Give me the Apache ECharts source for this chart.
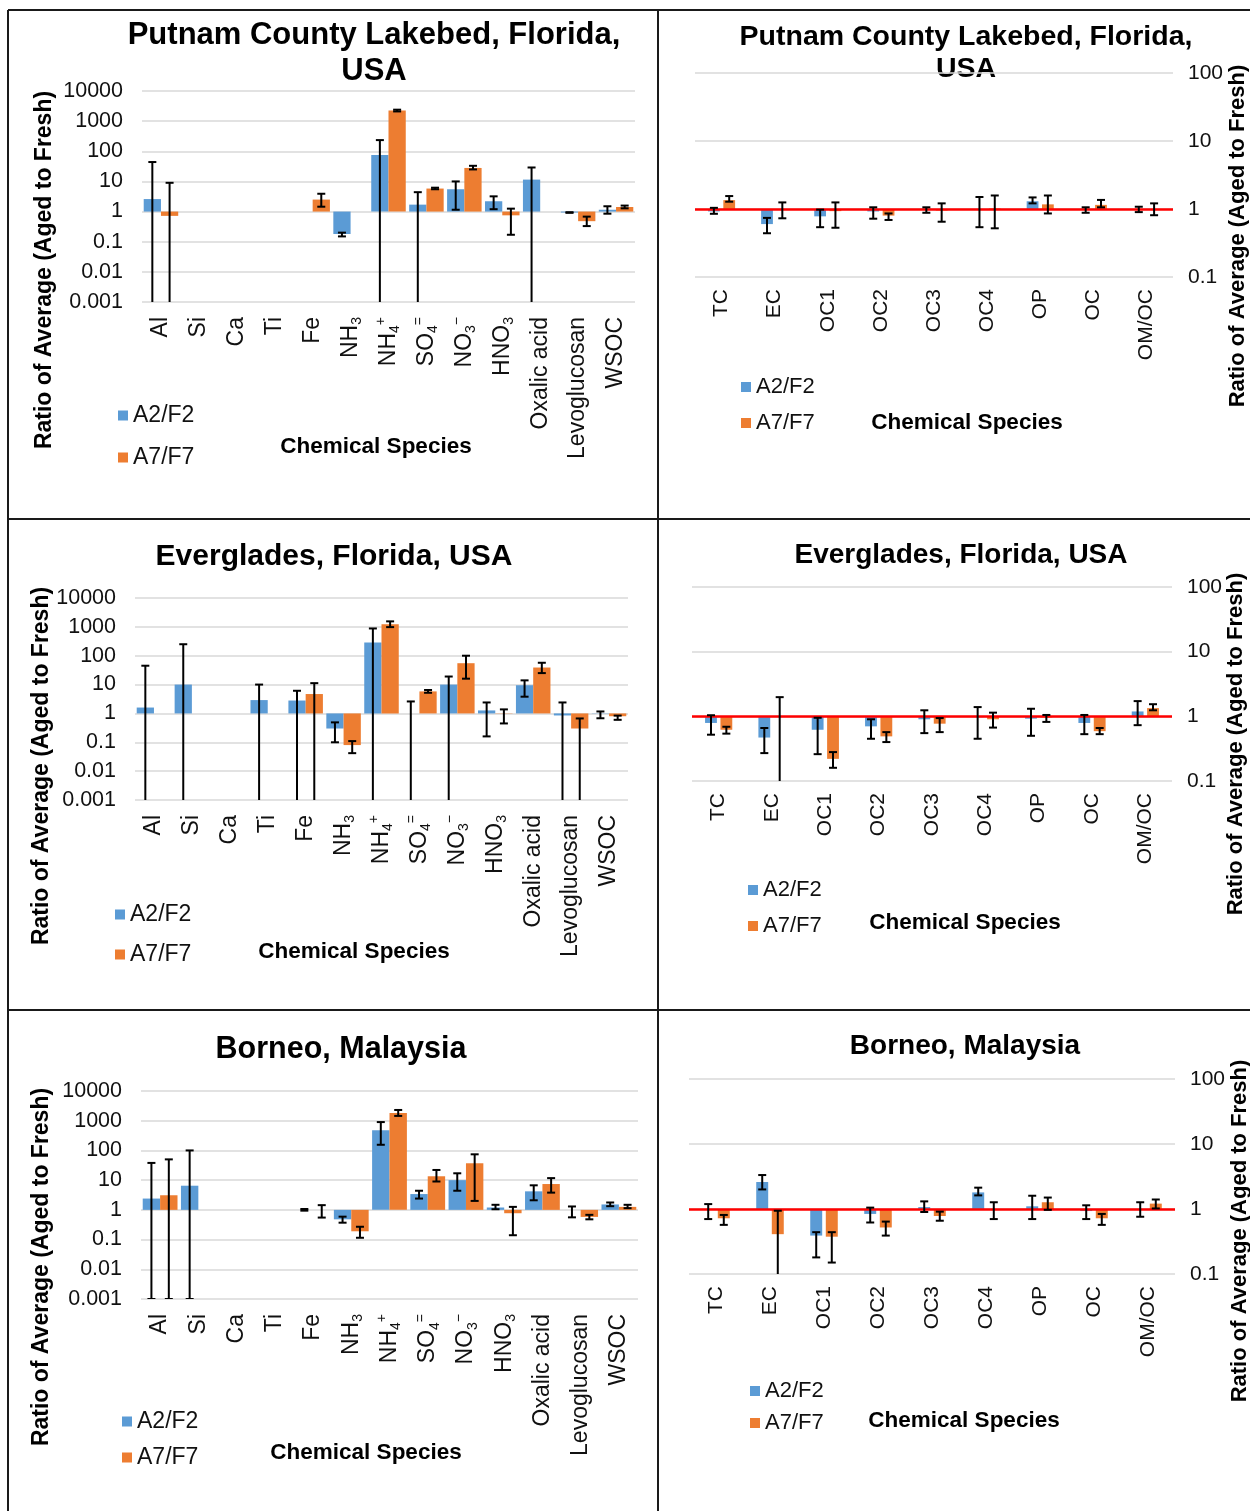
<!DOCTYPE html>
<html>
<head>
<meta charset="utf-8">
<script src="https://cdn.jsdelivr.net/npm/echarts@6/dist/echarts.min.js"></script>
<style>
  html, body { margin: 0; padding: 0; background: #fff; }
  #chart { width: 1250px; height: 1511px; }
</style>
</head>
<body>
<div id="chart"></div>
<script>
// ---------- categories and tick labels ----------
const chemCategories = ['Al', 'Si', 'Ca', 'Ti', 'Fe', 'NH3', 'NH4+', 'SO4=', 'NO3-', 'HNO3', 'Oxalic acid', 'Levoglucosan', 'WSOC'];
const carbonCategories = ['TC', 'EC', 'OC1', 'OC2', 'OC3', 'OC4', 'OP', 'OC', 'OM/OC'];
const chemTickLabels = ['0.001', '0.01', '0.1', '1', '10', '100', '1000', '10000'];
const carbonTickLabels = ['0.1', '1', '10', '100'];
const seriesNames = ['A2/F2', 'A7/F7'];
const siteTitles = ['Putnam County Lakebed, Florida,\nUSA', 'Everglades, Florida, USA', 'Borneo, Malaysia'];
const yAxisTitle = 'Ratio of Average (Aged to Fresh)';
const xAxisTitle = 'Chemical Species';

// ---------- ratios (value, lower end, upper end of error bar; lower 0 = runs off the axis) ----------
// Putnam County Lakebed, chemical species
const putnamChemA2 = [2.6, null, null, null, null, 0.18, 75, 1.7, 5.5, 2.2, 11.5, 0.93, 1.15];
const putnamChemA2Low = [0, null, null, null, null, 0.15, 0, 0, 1.15, 1.2, 0, 0.91, 0.85];
const putnamChemA2High = [44, null, null, null, null, 0.2, 235, 4.4, 10, 3.2, 29, 0.95, 1.5];
const putnamChemA7 = [0.72, null, null, null, 2.5, null, 2250, 5.8, 28, 0.75, null, 0.48, 1.42];
const putnamChemA7Low = [0, null, null, null, 1.45, null, 2100, 5.5, 25, 0.17, null, 0.33, 1.28];
const putnamChemA7High = [9, null, null, null, 3.9, null, 2400, 6.2, 33, 1.25, null, 0.68, 1.58];

// Putnam County Lakebed, carbon fractions
const putnamCarbonA2 = [0.92, 0.6, 0.78, 0.92, 0.98, 1.0, 1.3, 0.97, 0.98];
const putnamCarbonA2Low = [0.85, 0.44, 0.54, 0.72, 0.88, 0.54, 1.21, 0.88, 0.9];
const putnamCarbonA2High = [1.04, 0.74, 0.98, 1.06, 1.06, 1.5, 1.48, 1.06, 1.08];
const putnamCarbonA7 = [1.35, 0.98, 0.93, 0.8, 0.95, 1.02, 1.17, 1.15, 1.0];
const putnamCarbonA7Low = [1.28, 0.73, 0.53, 0.69, 0.65, 0.52, 0.86, 1.06, 0.81];
const putnamCarbonA7High = [1.55, 1.25, 1.25, 0.86, 1.21, 1.58, 1.58, 1.36, 1.21];

// Everglades, chemical species
const evergladesChemA2 = [1.6, 10, null, 2.9, 2.8, 0.3, 285, 1.0, 10, 1.27, 9.5, 0.85, 0.98];
const evergladesChemA2Low = [0, 0, null, 0, 0, 0.1, 0, 0, 0, 0.16, 3.8, 0, 0.68];
const evergladesChemA2High = [45, 250, null, 10, 6.1, 0.49, 880, 2.6, 19, 2.4, 14, 2.4, 1.17];
const evergladesChemA7 = [null, null, null, null, 4.7, 0.08, 1240, 5.8, 55, 0.98, 39, 0.3, 0.8];
const evergladesChemA7Low = [null, null, null, null, 0, 0.042, 980, 5.2, 16, 0.45, 25, 0, 0.6];
const evergladesChemA7High = [null, null, null, null, 11.2, 0.11, 1550, 6.5, 100, 1.38, 57, 0.67, 0.84];

// Everglades, carbon fractions
const evergladesCarbonA2 = [0.79, 0.47, 0.62, 0.7, 0.9, 0.97, 0.92, 0.79, 1.19];
const evergladesCarbonA2Low = [0.52, 0.27, 0.26, 0.45, 0.55, 0.45, 0.5, 0.53, 0.73];
const evergladesCarbonA2High = [1.04, 0.66, 0.95, 0.9, 1.24, 1.39, 1.31, 1.05, 1.72];
const evergladesCarbonA7 = [0.62, 1.0, 0.22, 0.49, 0.77, 0.9, 0.96, 0.59, 1.34];
const evergladesCarbonA7Low = [0.54, 0, 0.16, 0.4, 0.57, 0.67, 0.82, 0.53, 1.24];
const evergladesCarbonA7High = [0.69, 1.98, 0.28, 0.57, 0.94, 1.14, 1.05, 0.66, 1.54];

// Borneo, chemical species
const borneoChemA2 = [2.4, 6.5, null, null, 1.0, 0.48, 480, 3.4, 10, 1.2, 4.2, 1.0, 1.52];
const borneoChemA2Low = [0.001, 0.001, null, null, 0.94, 0.37, 155, 2.4, 4.4, 1.05, 2.1, 0.56, 1.33];
const borneoChemA2High = [38, 100, null, null, 1.07, 0.59, 900, 4.4, 17, 1.48, 6.7, 1.3, 1.77];
const borneoChemA7 = [3.1, null, null, null, 1.0, 0.19, 1830, 13.5, 37, 0.77, 7.4, 0.58, 1.26];
const borneoChemA7Low = [0.001, null, null, null, 0.55, 0.115, 1450, 9, 2.0, 0.14, 3.8, 0.48, 1.14];
const borneoChemA7High = [50, null, null, null, 1.44, 0.27, 2300, 22, 74, 1.26, 11.7, 0.68, 1.48];

// Borneo, carbon fractions
const borneoCarbonA2 = [1.0, 2.6, 0.39, 0.84, 1.07, 1.8, 1.1, 0.93, 1.0];
const borneoCarbonA2Low = [0.7, 2.0, 0.18, 0.62, 0.9, 1.62, 0.7, 0.7, 0.76];
const borneoCarbonA2High = [1.19, 3.33, 0.44, 1.05, 1.31, 2.13, 1.6, 1.14, 1.27];
const borneoCarbonA7 = [0.72, 0.41, 0.375, 0.52, 0.78, 1.0, 1.27, 0.72, 1.21];
const borneoCarbonA7Low = [0.57, 0, 0.15, 0.39, 0.66, 0.7, 0.97, 0.57, 1.02];
const borneoCarbonA7High = [0.81, 0.94, 0.44, 0.64, 0.91, 1.27, 1.5, 0.84, 1.4];

// ---------- styling ----------
const FONT = "'Liberation Sans', Arial, sans-serif";
const BLUE = '#5B9BD5';
const ORANGE = '#ED7D31';
const chemBars = { catGap: 0.09, barGap: 0 };
const carbonBars = { catGap: 0.49, barGap: 0.3 };

// panel layout: plot rectangle, title, axis-name and legend positions
const panels = [
  { kind: 'chem', title: siteTitles[0], grid: { left: 142, top: 91, width: 493, height: 211 },
    titlePos: [374, 17], titleSize: 31, titleLH: 36, yNamePos: [45, 270], xNamePos: [376, 447],
    legend: { left: 113, top: 399, gap: 19 },
    a2: [putnamChemA2, putnamChemA2Low, putnamChemA2High], a7: [putnamChemA7, putnamChemA7Low, putnamChemA7High] },
  { kind: 'carbon', title: siteTitles[0], grid: { left: 695, top: 73, width: 478, height: 204 },
    titlePos: [966, 21], titleSize: 28.5, titleLH: 32, yNamePos: [1238, 236], xNamePos: [967, 423],
    legend: { left: 736, top: 371, gap: 14 },
    a2: [putnamCarbonA2, putnamCarbonA2Low, putnamCarbonA2High], a7: [putnamCarbonA7, putnamCarbonA7Low, putnamCarbonA7High] },
  { kind: 'chem', title: siteTitles[1], grid: { left: 135, top: 598, width: 493, height: 202 },
    titlePos: [334, 539], titleSize: 30, titleLH: 36, yNamePos: [42, 766], xNamePos: [354, 952],
    legend: { left: 110, top: 898, gap: 17 },
    a2: [evergladesChemA2, evergladesChemA2Low, evergladesChemA2High], a7: [evergladesChemA7, evergladesChemA7Low, evergladesChemA7High] },
  { kind: 'carbon', title: siteTitles[1], grid: { left: 692, top: 587, width: 480, height: 194 },
    titlePos: [961, 539], titleSize: 28, titleLH: 32, yNamePos: [1236, 744], xNamePos: [965, 923],
    legend: { left: 743, top: 874, gap: 14 },
    a2: [evergladesCarbonA2, evergladesCarbonA2Low, evergladesCarbonA2High], a7: [evergladesCarbonA7, evergladesCarbonA7Low, evergladesCarbonA7High] },
  { kind: 'chem', title: siteTitles[2], grid: { left: 141, top: 1091, width: 497, height: 208 },
    titlePos: [341, 1032], titleSize: 30.5, titleLH: 36, yNamePos: [42, 1267], xNamePos: [366, 1453],
    legend: { left: 117, top: 1405, gap: 13 },
    a2: [borneoChemA2, borneoChemA2Low, borneoChemA2High], a7: [borneoChemA7, borneoChemA7Low, borneoChemA7High] },
  { kind: 'carbon', title: siteTitles[2], grid: { left: 689, top: 1079, width: 486, height: 195 },
    titlePos: [965, 1030], titleSize: 28, titleLH: 32, yNamePos: [1240, 1231], xNamePos: [964, 1421],
    legend: { left: 745, top: 1375, gap: 10 },
    a2: [borneoCarbonA2, borneoCarbonA2Low, borneoCarbonA2High], a7: [borneoCarbonA7, borneoCarbonA7Low, borneoCarbonA7High] }
];

// ion names with sub/superscripts as rich text
function chemLabel(name) {
  return name
    .replace(/(\d)/g, '{sub|$1}')
    .replace(/([+=])$/, '{sup|$1}')
    .replace(/-$/, '{sup|\u2212}');
}

// vertical error bar with caps, offset to sit on its bar within the category band
function errorBars(side, layout) {
  return function (params, api) {
    const cat = api.value(0);
    const lo = api.value(1);
    const hi = api.value(2);
    const band = api.size([1, 0])[0];
    const w = band * (1 - layout.catGap) / (2 + layout.barGap);
    const x = api.coord([cat, 1])[0] + side * (w + w * layout.barGap) / 2;
    const cs = params.coordSys;
    const yBottom = cs.y + cs.height;
    const yHi = api.coord([cat, hi])[1];
    const yLo = lo > 0 ? api.coord([cat, lo])[1] : yBottom;
    const cap = 4;
    const style = { stroke: '#000', lineWidth: 2 };
    const children = [
      { type: 'line', shape: { x1: x, y1: yHi, x2: x, y2: yLo }, style: style },
      { type: 'line', shape: { x1: x - cap, y1: yHi, x2: x + cap, y2: yHi }, style: style }
    ];
    if (lo > 0) {
      children.push({ type: 'line', shape: { x1: x - cap, y1: yLo, x2: x + cap, y2: yLo }, style: style });
    }
    return { type: 'group', children: children };
  };
}

function errorData(low, high) {
  const out = [];
  low.forEach(function (l, i) {
    if (l !== null && high[i] !== null) out.push([i, l, high[i]]);
  });
  return out;
}

const grids = [], xAxes = [], yAxes = [], series = [], legends = [], graphics = [];

panels.forEach(function (p, i) {
  const chem = p.kind === 'chem';
  const layout = chem ? chemBars : carbonBars;
  const ticks = chem ? chemTickLabels : carbonTickLabels;
  const yMin = chem ? 0.001 : 0.1;
  const yMax = chem ? 10000 : 100;

  grids.push(Object.assign({ containLabel: false }, p.grid));

  xAxes.push({
    gridIndex: i, type: 'category', data: chem ? chemCategories : carbonCategories,
    axisLine: { show: false }, axisTick: { show: false },
    axisLabel: {
      rotate: 90, interval: 0, margin: chem ? 15 : 12, color: '#111',
      fontSize: chem ? 23 : 21, fontFamily: FONT,
      lineHeight: 28,
      formatter: chem ? chemLabel : function (v) { return v; },
      rich: {
        sub: { fontSize: 14, fontFamily: FONT, color: '#111', verticalAlign: 'bottom', lineHeight: 14 },
        sup: { fontSize: 14, fontFamily: FONT, color: '#111', verticalAlign: 'top', lineHeight: 14 }
      }
    }
  });

  yAxes.push({
    gridIndex: i, type: 'log', logBase: 10, min: yMin, max: yMax,
    position: chem ? 'left' : 'right',
    axisLine: { show: false }, axisTick: { show: false },
    splitLine: { show: true, lineStyle: { color: '#d9d9d9', width: 1.5 } },
    axisLabel: {
      margin: chem ? 19 : 15, color: '#111', fontSize: chem ? 21.5 : 21, fontFamily: FONT,
      formatter: function (v) { return ticks[Math.round(Math.log10(v / yMin))]; }
    }
  });

  const barCommon = {
    type: 'bar', xAxisIndex: i, yAxisIndex: i,
    barGap: (layout.barGap * 100) + '%', barCategoryGap: (layout.catGap * 100) + '%',
    animation: false, z: 2
  };
  series.push(Object.assign({}, barCommon, { name: seriesNames[0], data: p.a2[0], itemStyle: { color: BLUE } }));
  const a7Bar = Object.assign({}, barCommon, { name: seriesNames[1], data: p.a7[0], itemStyle: { color: ORANGE } });
  if (!chem) {
    a7Bar.markLine = {
      silent: true, symbol: 'none', animation: false, z: 4,
      label: { show: false },
      lineStyle: { color: '#FF0000', width: 2.5, type: 'solid' },
      emphasis: { disabled: true },
      data: [{ yAxis: 1 }]
    };
  }
  series.push(a7Bar);

  series.push({
    type: 'custom', name: seriesNames[0] + ' error', xAxisIndex: i, yAxisIndex: i,
    renderItem: errorBars(-1, layout), encode: { x: 0, y: [1, 2] },
    data: errorData(p.a2[1], p.a2[2]), z: 6, clip: true, animation: false, silent: true
  });
  series.push({
    type: 'custom', name: seriesNames[1] + ' error', xAxisIndex: i, yAxisIndex: i,
    renderItem: errorBars(1, layout), encode: { x: 0, y: [1, 2] },
    data: errorData(p.a7[1], p.a7[2]), z: 6, clip: true, animation: false, silent: true
  });

  legends.push({
    data: seriesNames, orient: 'vertical', left: p.legend.left, top: p.legend.top,
    itemGap: p.legend.gap, itemWidth: 10, itemHeight: 10, icon: 'rect', selectedMode: false,
    textStyle: { fontSize: chem ? 23 : 22, lineHeight: 22, color: '#111', fontFamily: FONT }
  });

  graphics.push({
    type: 'text', x: p.titlePos[0], y: p.titlePos[1], silent: true,
    style: { text: p.title, fill: '#000', fontSize: p.titleSize, fontWeight: 'bold', fontFamily: FONT,
             lineHeight: p.titleLH, align: 'center', verticalAlign: 'top' }
  });
  graphics.push({
    type: 'text', x: p.yNamePos[0], y: p.yNamePos[1], rotation: Math.PI / 2, silent: true,
    style: { text: yAxisTitle, fill: '#000', fontSize: chem ? 23 : 22, fontWeight: 'bold', fontFamily: FONT,
             align: 'center', verticalAlign: 'middle' }
  });
  graphics.push({
    type: 'text', x: p.xNamePos[0], y: p.xNamePos[1], silent: true,
    style: { text: xAxisTitle, fill: '#000', fontSize: 22.5, fontWeight: 'bold', fontFamily: FONT,
             align: 'center', verticalAlign: 'middle' }
  });
});

// table frame around the six panels
const frameLines = [
  [8, 10, 1250, 10], [8, 10, 8, 1511], [658, 10, 658, 1511],
  [8, 519, 1250, 519], [8, 1010, 1250, 1010]
];
frameLines.forEach(function (l) {
  graphics.push({ type: 'line', silent: true, z: 10,
    shape: { x1: l[0], y1: l[1], x2: l[2], y2: l[3] },
    style: { stroke: '#1a1a1a', lineWidth: 2 } });
});

const chart = echarts.init(document.getElementById('chart'), null, { renderer: 'canvas' });
chart.setOption({
  backgroundColor: '#fff',
  animation: false,
  textStyle: { fontFamily: FONT },
  grid: grids,
  xAxis: xAxes,
  yAxis: yAxes,
  legend: legends,
  series: series,
  graphic: graphics
});
</script>
</body>
</html>
